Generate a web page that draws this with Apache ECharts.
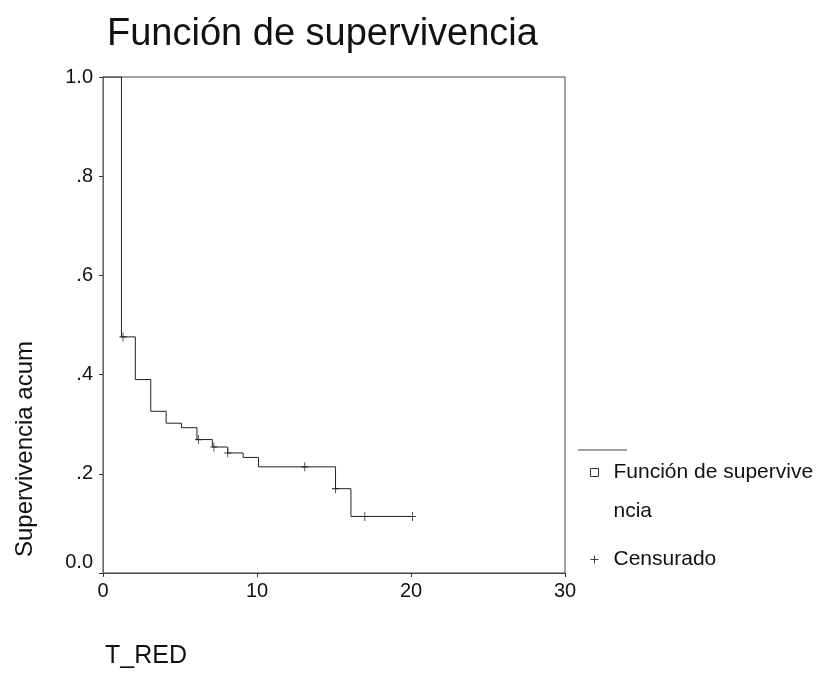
<!DOCTYPE html>
<html>
<head>
<meta charset="utf-8">
<script src="https://cdn.jsdelivr.net/npm/echarts@6/dist/echarts.min.js"></script>
<style>
html,body{margin:0;padding:0;background:#fff;}
#chart{width:822px;height:674px;}
</style>
</head>
<body>
<div id="chart"></div>
<script>
// Step times (T_RED) where survival changes and survival values
const stepTimes = [0, 1.2, 2.1, 3.1, 4.1, 5.1, 6.1, 7.1, 8.1, 9.1, 10.1, 15.1, 16.1, 20.1];
const survival  = [1.0, 0.476, 0.390, 0.326, 0.302, 0.293, 0.269, 0.254, 0.242, 0.233, 0.214, 0.170, 0.114, 0.114];
// Censored observations
const censorTimes = [1.3, 6.2, 7.2, 8.1, 13.1, 15.1, 17.0, 20.1];
const censorSurv  = [0.476, 0.269, 0.254, 0.242, 0.214, 0.170, 0.114, 0.114];
// Axis tick labels
const yTickLabels = {0: '0.0', 0.2: '.2', 0.4: '.4', 0.6: '.6', 0.8: '.8', 1: '1.0'};
const xTicks = [0, 10, 20, 30];

const survData = stepTimes.map((t, i) => [t, survival[i]]);
const censData = censorTimes.map((t, i) => [t, censorSurv[i]]);

const FONT = '"Liberation Sans", Arial, sans-serif';
const chart = echarts.init(document.getElementById('chart'));
chart.setOption({
  backgroundColor: '#fff',
  animation: false,
  title: {
    text: 'Función de supervivencia',
    left: 102, top: 11,
    textStyle: {fontFamily: FONT, fontSize: 38, fontWeight: 'normal', color: '#111'}
  },
  grid: {left: 103, right: 257, top: 77, bottom: 101, show: true, borderColor: '#444', borderWidth: 1,
         containLabel: false, outerBoundsMode: 'none'},
  xAxis: {
    type: 'value', min: 0, max: 30, interval: 10,
    name: 'T_RED', nameLocation: 'middle', nameGap: 71,
    nameTextStyle: {fontFamily: FONT, fontSize: 25, color: '#111', align: 'center', verticalAlign: 'top', padding: [0, 376, 0, 0]},
    axisLine: {show: true, lineStyle: {color: '#444', width: 1}},
    axisTick: {show: true, length: 4, lineStyle: {color: '#333'}},
    axisLabel: {fontFamily: FONT, fontSize: 20, color: '#111', margin: 8},
    splitLine: {show: false}
  },
  yAxis: {
    type: 'value', min: 0, max: 1, interval: 0.2,
    name: 'Supervivencia acum', nameLocation: 'middle', nameGap: 78, nameRotate: 90,
    nameTextStyle: {fontFamily: FONT, fontSize: 24, color: '#111', align: 'center', verticalAlign: 'middle', padding: [0, 248, 0, 0]},
    axisLine: {show: true, lineStyle: {color: '#666', width: 1}},
    axisTick: {show: true, length: 4, lineStyle: {color: '#333'}},
    axisLabel: {
      fontFamily: FONT, fontSize: 20, color: '#111', margin: 10,
      formatter: function (v) {
        const key = Math.round(v * 10) / 10;
        const s = yTickLabels[key];
        return key === 0 ? '{z|' + s + '}' : s;
      },
      rich: {z: {fontFamily: FONT, fontSize: 20, color: '#111', padding: [0, 0, 22, 0]}}
    },
    splitLine: {show: false}
  },
  legend: {
    orient: 'vertical', left: 588, top: 414, padding: 0, itemGap: 9,
    itemWidth: 28, itemHeight: 8, symbolKeepAspect: true,
    textStyle: {fontFamily: FONT, fontSize: 21, color: '#111', lineHeight: 39},
    formatter: function (name) {
      return name === 'Función de supervivencia' ? '\nFunción de supervive\nncia' : name;
    },
    data: [
      {name: 'Función de supervivencia', icon: 'path://M0,0H10V10H0Z', itemStyle: {color: '#fff', borderColor: '#333', borderWidth: 1}},
      {name: 'Censurado', icon: 'path://M0,5H10M5,0V10', itemStyle: {color: 'none', borderColor: '#111', borderWidth: 1}}
    ]
  },
  graphic: [{
    type: 'line', shape: {x1: 578, y1: 450, x2: 627, y2: 450},
    style: {stroke: '#444', lineWidth: 1}
  }],
  series: [
    {
      name: 'Función de supervivencia', type: 'line', step: 'end',
      data: survData, showSymbol: false, symbol: 'none',
      lineStyle: {color: '#222', width: 1}, itemStyle: {color: '#222'}
    },
    {
      name: 'Censurado', type: 'scatter', data: censData,
      symbol: 'path://M0,5H10M5,0V10', symbolSize: [7, 9],
      itemStyle: {color: 'none', borderColor: '#111', borderWidth: 1}
    }
  ]
});
</script>
</body>
</html>
